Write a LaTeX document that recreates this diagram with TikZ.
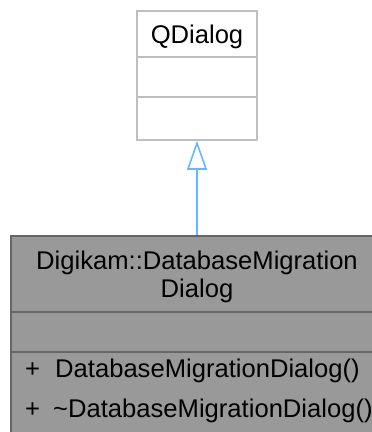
\documentclass[tikz,border=0pt]{standalone}
\usepackage{fontspec}
\setmainfont{Liberation Sans}
\usetikzlibrary{arrows.meta}
\definecolor{qborder}{HTML}{BFBFBF}
\definecolor{dmfill}{HTML}{999999}
\definecolor{dmborder}{HTML}{666666}
\definecolor{arrowblue}{HTML}{63B8FF}
\tikzset{
  classtext/.style={font=\fontsize{25.6}{29}\selectfont, inner sep=0pt, text=black},
  lightbox/.style={draw=qborder, line width=1.6pt, fill=white, inner sep=0pt},
  darkbox/.style={draw=dmborder, line width=1.6pt, fill=dmfill, inner sep=0pt},
  inherit/.style={draw=arrowblue, line width=1.6pt, -{Triangle[open,length=29pt,width=20pt]}}
}
\begin{document}
\begin{tikzpicture}[x=1pt,y=1pt]
\useasboundingbox (0,0) rectangle (372,432);
\clip (0,0) rectangle (372,432);
% QDialog box
\node[lightbox, minimum width=120pt, minimum height=129pt] (qd) at (197,356.5) {};
\draw[qborder, line width=1.6pt] (137,375) -- (257,375);
\draw[qborder, line width=1.6pt] (137,335) -- (257,335);
\node[classtext, anchor=base] (qdt) at (197,388) {QDialog};
% Digikam::DatabaseMigrationDialog box
\node[darkbox, minimum width=372pt, minimum height=209pt] (dm) at (197,91.5) {};
\draw[dmborder, line width=1.6pt] (11,120) -- (383,120);
\draw[dmborder, line width=1.6pt] (11,80) -- (383,80);
\node[classtext, anchor=base] (dmt1) at (197,162) {Digikam::DatabaseMigration};
\node[classtext, anchor=base] (dmt2) at (197,134) {Dialog};
\node[classtext, anchor=base west] (p1) at (25,55) {+};
\node[classtext, anchor=base west] (m1) at (55,55) {DatabaseMigrationDialog()};
\node[classtext, anchor=base west] (p2) at (25,15) {+};
\node[classtext, anchor=base west] (m2) at (53,15) {\textasciitilde DatabaseMigrationDialog()};
% inheritance arrow
\draw[inherit] (dm.north) -- (qd.south);
\end{tikzpicture}
\end{document}
